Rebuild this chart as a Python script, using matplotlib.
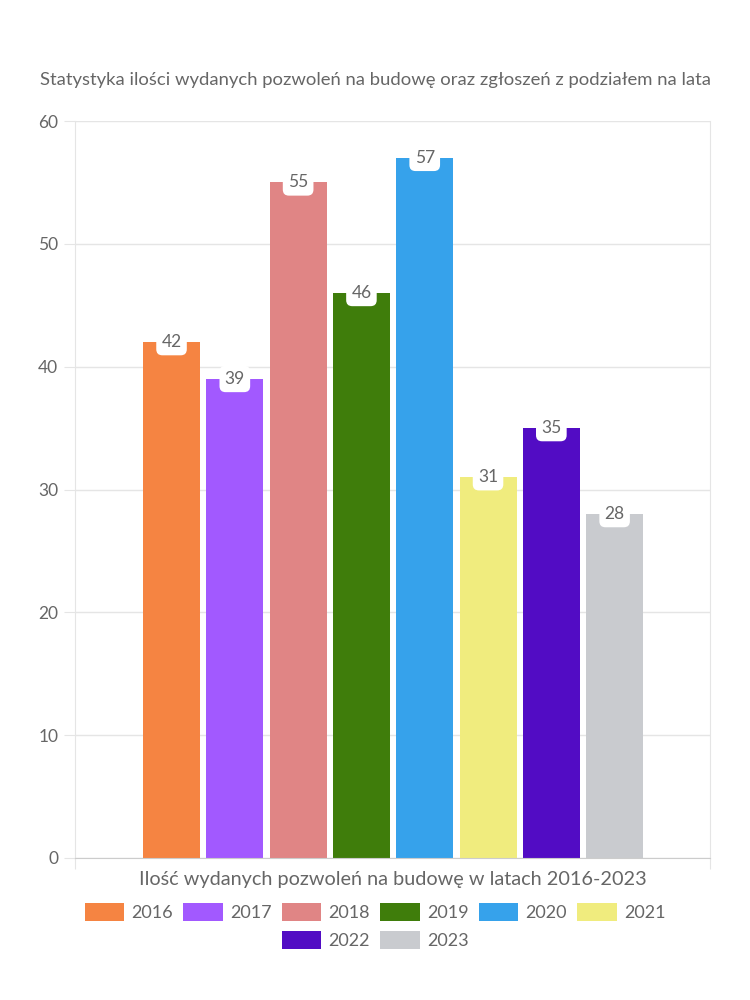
import matplotlib
matplotlib.use("Agg")
import numpy
from matplotlib import pyplot
from matplotlib.patches import Patch

years = ["2016", "2017", "2018", "2019", "2020", "2021", "2022", "2023"]
counts = [42, 39, 55, 46, 57, 31, 35, 28]
colors = ["#F58442", "#A259FF", "#E08585", "#3F7D0B",
          "#36A2EB", "#F0EC7E", "#520CC4", "#C9CBCF"]

title = "Statystyka ilości wydanych pozwoleń na budowę oraz zgłoszeń z podziałem na lata"
xlabel = "Ilość wydanych pozwoleń na budowę w latach 2016-2023"

pyplot.rcParams["font.family"] = ["Lato", "DejaVu Sans"]
txt = "#666666"
grid = "#E5E5E5"

fig = pyplot.figure(figsize=(7.5, 10), dpi=100)
ax = fig.add_axes([0.1, 0.142, 0.8467, 0.737])

x = numpy.arange(len(years))
bars = ax.bar(x, counts, width=0.9, color=colors, zorder=2)

for xi, v in zip(x, counts):
    ax.text(xi, v, str(v), ha="center", va="center", fontsize=12.5, color=txt,
            zorder=3,
            bbox=dict(boxstyle="round,pad=0.3,rounding_size=0.35",
                      fc="white", ec="none"))

ax.set_xlim(-1.525, 8.507)
ax.set_ylim(0, 60)
ax.set_yticks(range(0, 61, 10))
ax.yaxis.grid(True, color=grid, lw=1, zorder=0)
ax.tick_params(axis="y", length=8, color=grid, labelsize=12.5,
               labelcolor=txt, pad=4)
ax.set_xticks([-1.525, 8.507])
ax.set_xticklabels(["", ""])
ax.tick_params(axis="x", length=8, color=grid)

ax.spines["top"].set_visible(False)
ax.spines["right"].set_color(grid)
ax.spines["left"].set_color(grid)
ax.spines["bottom"].set_color("#CCCCCC")

fig.text(0.5, 0.92, title, ha="center", va="center", fontsize=13.3, color=txt)
fig.text(0.5233, 0.12, xlabel, ha="center", va="center", fontsize=14.3, color=txt)

handles = [Patch(facecolor=c, edgecolor="none") for c in colors]
leg_kw = dict(frameon=False, fontsize=13, labelcolor=txt,
              handlelength=2.2, handleheight=1.2, handletextpad=0.4,
              columnspacing=0.55, borderaxespad=0)
fig.legend(handles[:6], years[:6], ncol=6, loc="center",
           bbox_to_anchor=(0.5, 0.088), **leg_kw)
fig.legend(handles[6:], years[6:], ncol=2, loc="center",
           bbox_to_anchor=(0.5, 0.06), **leg_kw)

fig.savefig("out.png", dpi=100, facecolor="white")
